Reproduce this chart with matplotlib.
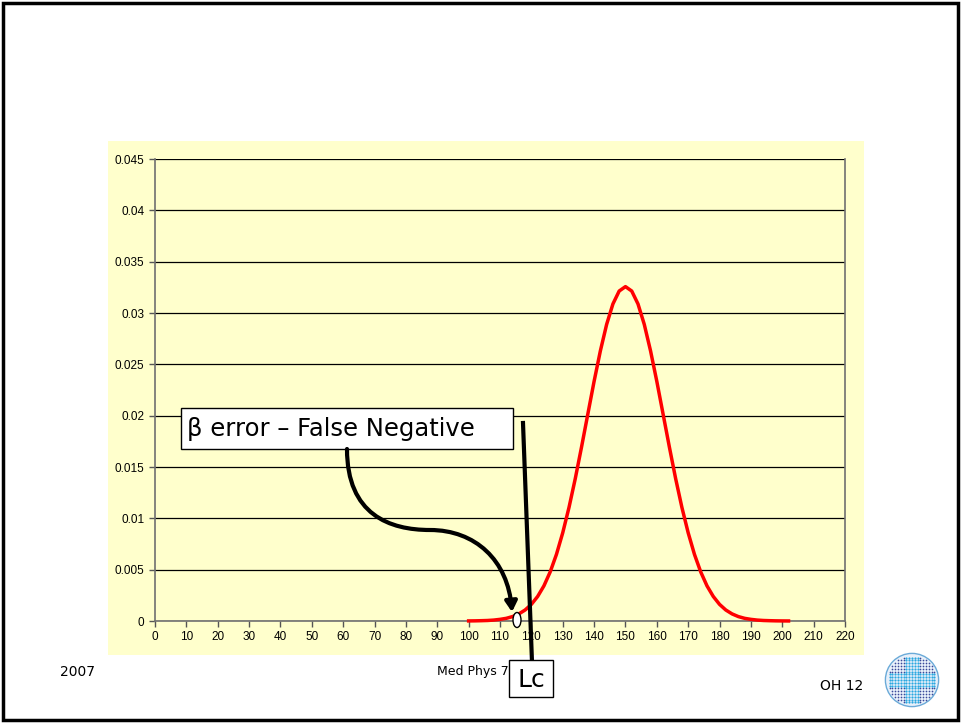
import numpy as np
import matplotlib.pyplot as plt
from matplotlib.patches import Rectangle, Ellipse, Circle, FancyArrowPatch
from matplotlib.path import Path

# counts vs probability
x_counts = [100, 102, 104, 106, 108, 110, 112, 114, 116, 118, 120, 122, 124, 126,
            128, 130, 132, 134, 136, 138, 140, 142, 144, 146, 148, 150, 152, 154,
            156, 158, 160, 162, 164, 166, 168, 170, 172, 174, 176, 178, 180, 182,
            184, 186, 188, 190, 192, 194, 196, 198, 200, 202]
prob = [0.000008, 0.000015, 0.00003, 0.00005, 0.00009, 0.00016, 0.00026, 0.00043,
        0.00069, 0.00107, 0.00162, 0.00239, 0.00342, 0.00478, 0.00649, 0.00859,
        0.01106, 0.01387, 0.01695, 0.02015, 0.02334, 0.02631, 0.02889, 0.03088,
        0.03214, 0.03257, 0.03214, 0.03088, 0.02889, 0.02631, 0.02334, 0.02015,
        0.01695, 0.01387, 0.01106, 0.00859, 0.00649, 0.00478, 0.00342, 0.00239,
        0.00162, 0.00107, 0.00069, 0.00043, 0.00026, 0.00016, 0.00009, 0.00005,
        0.00003, 0.000015, 0.000008, 0.000004]

x_ticks = list(range(0, 221, 10))
y_ticks = [0, 0.005, 0.01, 0.015, 0.02, 0.025, 0.03, 0.035, 0.04, 0.045]
y_labels = ["0", "0.005", "0.01", "0.015", "0.02", "0.025", "0.03", "0.035", "0.04", "0.045"]

W, H = 961, 723
fig = plt.figure(figsize=(W / 100, H / 100), dpi=100)


def fx(px):
    return px / W


def fy(py):
    return 1 - py / H


# slide frame
fig.patches.append(Rectangle((fx(3), fy(720)), fx(955), 717 / H, transform=fig.transFigure,
                             fill=False, edgecolor="black", linewidth=2.5, zorder=0))
# chart area
fig.patches.append(Rectangle((fx(108), fy(655)), fx(756), 514 / H, transform=fig.transFigure,
                             facecolor="#FFFFCC", edgecolor="none", zorder=-1))

ax = fig.add_axes([fx(155), fy(621), fx(690), 462 / H])
ax.set_zorder(1)
ax.set_facecolor("#FFFFCC")
ax.plot(x_counts, prob, color="red", linewidth=2.5, zorder=3, clip_on=False)

ax.set_xlim(0, 220)
ax.set_ylim(0, 0.045)
ax.set_xticks(x_ticks)
ax.set_yticks(y_ticks)
ax.set_yticklabels(y_labels)
ax.tick_params(labelsize=8.5, colors="#555555", labelcolor="black", length=4, width=1,
               direction="out")
for lab in ax.get_xticklabels() + ax.get_yticklabels():
    lab.set_family("Liberation Sans")
ax.grid(axis="y", color="black", linewidth=0.9)
ax.set_axisbelow(True)
for side in ["left", "right", "bottom", "top"]:
    ax.spines[side].set_color("#707070")
    ax.spines[side].set_linewidth(1.2)
ax.spines["top"].set_visible(False)

# beta error label box
fig.patches.append(Rectangle((fx(181), fy(449)), fx(332), 41 / H, transform=fig.transFigure,
                             facecolor="white", edgecolor="black", linewidth=1, zorder=5))
fig.text(fx(187), fy(429), "β error – False Negative", fontsize=17.5, va="center",
         ha="left", zorder=6)

# curved arrow to the point on the curve
verts = [(347, 449), (347, 515), (390, 530), (430, 530),
         (475, 530), (508, 560), (512, 612)]
verts = [(fx(a), fy(b)) for a, b in verts]
codes = [Path.MOVETO, Path.CURVE4, Path.CURVE4, Path.CURVE4,
         Path.CURVE4, Path.CURVE4, Path.CURVE4]
arrow = FancyArrowPatch(path=Path(verts, codes), arrowstyle="-|>,head_length=6,head_width=3.5",
                        color="black", linewidth=3, transform=fig.transFigure, zorder=6)
fig.patches.append(arrow)

fig.patches.append(Ellipse((fx(517), fy(620)), fx(8), 15 / H, transform=fig.transFigure,
                           facecolor="white", edgecolor="black", linewidth=1, zorder=7))

# Lc line and box
fig.lines.append(plt.Line2D([fx(523), fx(532)], [fy(423), fy(662)], transform=fig.transFigure,
                            color="black", linewidth=3, zorder=6))

# footer
fig.text(fx(60), fy(672), "2007", fontsize=10, va="center", ha="left")
fig.text(fx(437), fy(672), "Med Phys 7", fontsize=9, va="center", ha="left")
fig.text(fx(820), fy(686), "OH 12", fontsize=10, va="center", ha="left")

fig.patches.append(Rectangle((fx(509), fy(697)), fx(44), 37 / H, transform=fig.transFigure,
                             facecolor="white", edgecolor="black", linewidth=1, zorder=7))
fig.text(fx(531), fy(680), "Lc", fontsize=18, va="center", ha="center", zorder=8)

# logo
lax = fig.add_axes([fx(884), fy(708), fx(56), 56 / H])
lax.set_xlim(-1, 1)
lax.set_ylim(-1, 1)
lax.set_aspect("equal")
lax.axis("off")
lax.add_patch(Circle((0, 0), 0.95, facecolor="#e8f0fa", edgecolor="#6aaad8", linewidth=1))
g = np.linspace(-0.8, 0.8, 17)
gx, gy = np.meshgrid(g, g)
inside = gx ** 2 + gy ** 2 < 0.75
cross = (np.abs(gx) < 0.25) | (np.abs(gy) < 0.25)
lax.scatter(gx[inside & ~cross], gy[inside & ~cross], s=1.5, color="#3a4a9a", linewidths=0)
lax.scatter(gx[inside & cross], gy[inside & cross], s=2.5, color="#2aa8e0", linewidths=0)

plt.savefig("out.png", dpi=100)
